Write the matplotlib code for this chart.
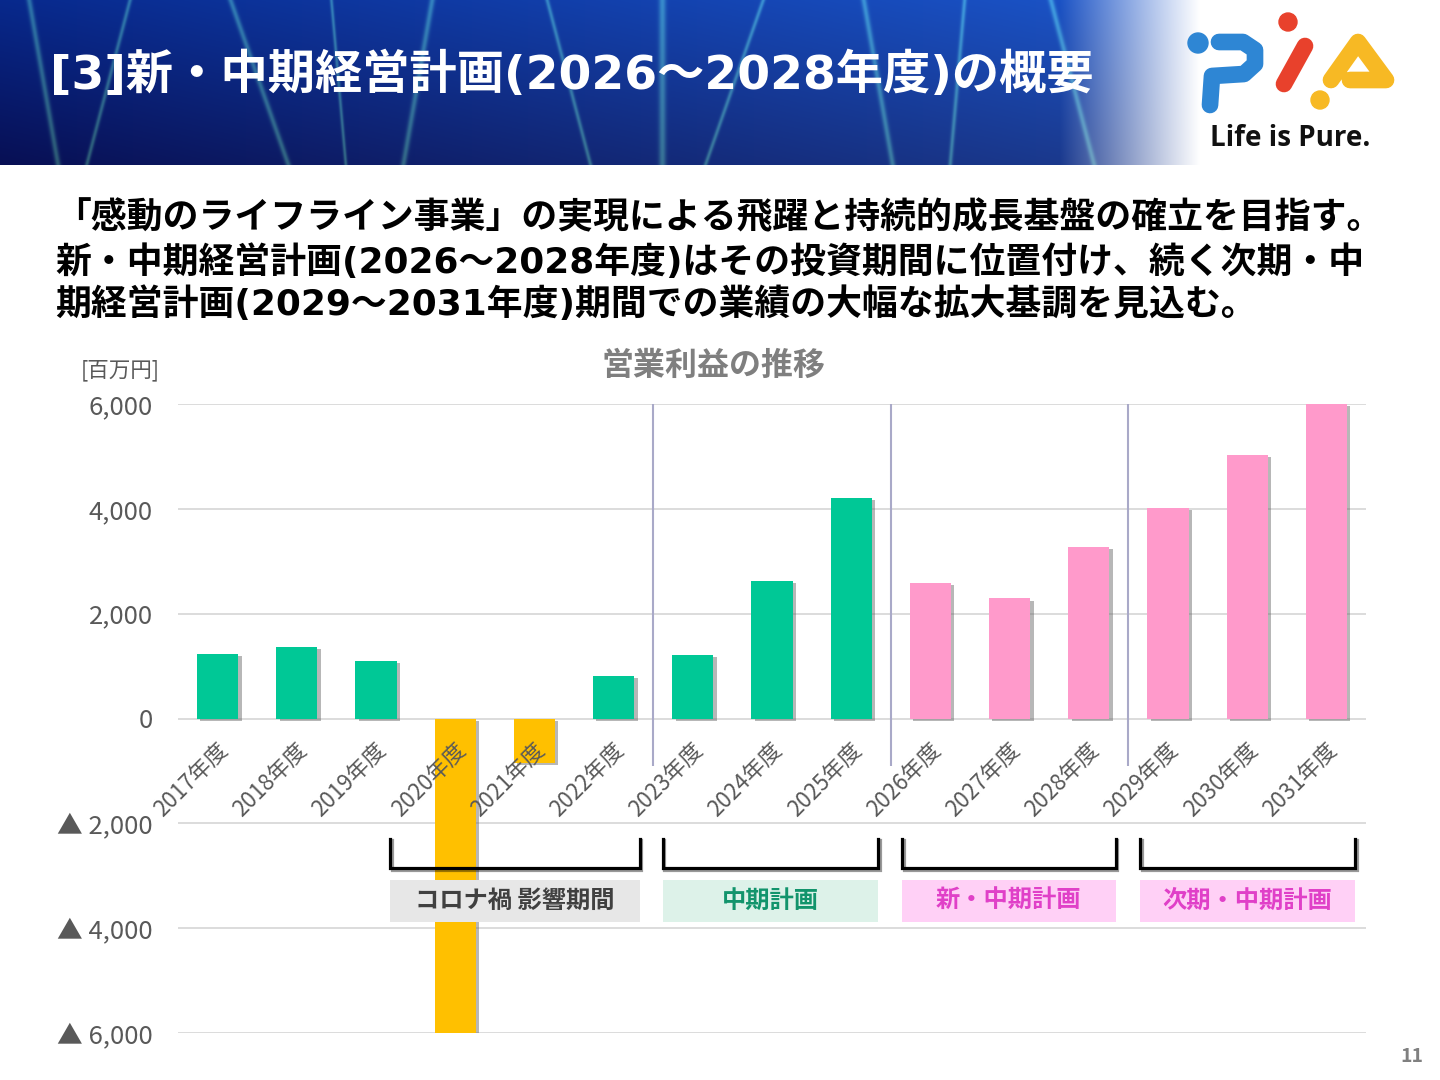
import numpy as np
import matplotlib
matplotlib.use('Agg')
import matplotlib.pyplot as plt
from matplotlib import patheffects as pe
from matplotlib.patches import Rectangle, Circle, PathPatch
from matplotlib.path import Path
from matplotlib.transforms import ScaledTranslation

plt.rcParams['font.family'] = ['Noto Sans CJK JP', 'DejaVu Sans']
MIX = ['DejaVu Sans', 'Noto Sans CJK JP']

# データ
years = ['2017年度', '2018年度', '2019年度', '2020年度', '2021年度', '2022年度',
         '2023年度', '2024年度', '2025年度', '2026年度', '2027年度', '2028年度',
         '2029年度', '2030年度', '2031年度']
profit = [1230, 1370, 1100, -6000, -850, 820, 1210, 2630, 4200,
          2580, 2290, 3270, 4020, 5020, 6000]
phase = ['past', 'past', 'past', 'covid', 'covid', 'past', 'past', 'past', 'past',
         'plan', 'plan', 'plan', 'plan', 'plan', 'plan']
yticks = [-6000, -4000, -2000, 0, 2000, 4000, 6000]
ytick_labels = ['▲ 6,000', '▲ 4,000', '▲ 2,000', '0', '2,000', '4,000', '6,000']
period_labels = ['コロナ禍 影響期間', '中期計画', '新・中期計画', '次期・中期計画']
period_spans = [(2.18, 5.33), (5.62, 8.34), (8.64, 11.34), (11.65, 14.36)]
separators = [5.5, 8.5, 11.5]

colors = {'past': '#00C896', 'covid': '#FFC000', 'plan': '#FF9ACB'}
box_face = ['#E7E7E7', '#DDF2E9', '#FFD0F6', '#FFD0F6']
box_text = ['#404040', '#12946C', '#E040C8', '#E040C8']

W, H = 1440, 1080
fig = plt.figure(figsize=(W / 100, H / 100), dpi=100)
fig.patch.set_facecolor('white')

def fx(px):
    return px / W

def fy(py):
    return 1 - py / H

# ヘッダー背景
hax = fig.add_axes([0, fy(165), 1, 165 / H])
xx = np.linspace(0, 1, W)
yy = np.linspace(0, 1, 165)
X, Y = np.meshgrid(xx, yy)
r = 0.03 + 0.10 * X
g = 0.16 + 0.22 * X - 0.10 * Y
b = 0.55 + 0.30 * X - 0.22 * Y
streaks = [(0.02, 0.02, 0.002), (0.09, -0.03, 0.0015), (0.16, 0.04, 0.002),
           (0.23, 0.01, 0.0012), (0.3, -0.02, 0.002), (0.38, 0.03, 0.0015),
           (0.46, 0.0, 0.0025), (0.53, -0.04, 0.0015), (0.6, 0.02, 0.002),
           (0.67, -0.01, 0.0015), (0.73, 0.03, 0.002)]
for cx, lean, wd in streaks:
    s = np.exp(-((X - cx - lean * Y) / wd) ** 2) * 0.28
    r += s * 0.5
    g += s
    b += s * 0.4
img = np.clip(np.dstack([r, g, b]), 0, 1)
fade = np.clip((X * W - 1060) / 140, 0, 1)[..., None]
img = img * (1 - fade) + fade
hax.imshow(img, aspect='auto', extent=[0, 1, 0, 1])
hax.axis('off')

fig.text(fx(50), fy(76), '[3]新・中期経営計画(2026～2028年度)の概要', color='white',
         fontsize=34, fontweight='bold', va='center', ha='left', family=MIX)

# ロゴ
lax = fig.add_axes([fx(1170), fy(165), 250 / W, 165 / H])
lax.set_xlim(1170, 1420)
lax.set_ylim(165, 0)
lax.axis('off')
blue, red, yel = '#2E86D4', '#E8412C', '#F7B924'
lax.add_patch(Circle((1198, 43), 10, color=blue))
pverts = [(1219, 42), (1243, 42), (1255, 50), (1255, 64), (1244, 74), (1212, 76), (1210, 105)]
lax.add_patch(PathPatch(Path(pverts), fill=False, edgecolor=blue, lw=12,
                        capstyle='round', joinstyle='round'))
lax.add_patch(Circle((1288, 22), 9, color=red))
lax.plot([1305, 1284], [46, 84], color=red, lw=12, solid_capstyle='round')
averts = [(1331, 80), (1358, 42), (1386, 80), (1350, 80)]
lax.add_patch(PathPatch(Path(averts), fill=False, edgecolor=yel, lw=12,
                        capstyle='round', joinstyle='round'))
lax.add_patch(Circle((1320, 100), 9, color=yel))
lax.text(1290, 138, 'Life is Pure.', ha='center', va='center', fontsize=20,
         fontweight='bold', color='#111111', family=['Open Sans', 'DejaVu Sans'])

# 本文
body = ['「感動のライフライン事業」の実現による飛躍と持続的成長基盤の確立を目指す。',
        '新・中期経営計画(2026～2028年度)はその投資期間に位置付け、続く次期・中',
        '期経営計画(2029～2031年度)期間での業績の大幅な拡大基調を見込む。']
for line, py in zip(body, [218, 262, 304]):
    fig.text(fx(55), fy(py), line, fontsize=25.8, fontweight='bold', color='black',
             va='center', ha='left', family=MIX)

fig.text(fx(714), fy(366), '営業利益の推移', fontsize=23, fontweight='bold',
         color='#7F7F7F', ha='center', va='center')
fig.text(fx(120), fy(370), '[百万円]', fontsize=15.5, color='#595959',
         ha='center', va='center')
fig.text(fx(1412), fy(1056), '11', fontsize=14, fontweight='bold', color='#808080',
         ha='center', va='center')

# グラフ
ax = fig.add_axes([fx(178), fy(1033), (1366 - 178) / W, (1033 - 404) / H])
ax.set_xlim(-0.5, len(years) - 0.5)
ax.set_ylim(-6000, 6000)
x = np.arange(len(years))
bars = ax.bar(x, profit, width=0.52, color=[colors[p] for p in phase], zorder=3)
for p in bars.patches:
    p.set_path_effects([pe.SimplePatchShadow(offset=(2.5, -1.5), shadow_rgbFace='#606060', alpha=0.45),
                        pe.Normal()])

ax.set_yticks(yticks)
ax.set_yticklabels(ytick_labels, fontsize=18.5, color='#595959')
ax.tick_params(axis='y', length=0, pad=18)
ax.set_xticks([])
ax.yaxis.grid(True, color='#D9D9D9', lw=1.3)
ax.set_axisbelow(True)
for s in ax.spines.values():
    s.set_visible(False)

ax.vlines(separators, -900, 6000, color='#A9A9C8', lw=1.5, zorder=2)

off = ax.transData + ScaledTranslation(0.07, -0.28, fig.dpi_scale_trans)
for i, lab in enumerate(years):
    ax.text(i, 0, lab, rotation=45, rotation_mode='anchor', ha='right', va='center',
            fontsize=16, color='#595959', transform=off, zorder=5)

for (x0, x1), lab, fc, tc in zip(period_spans, period_labels, box_face, box_text):
    ax.plot([x0, x0, x1, x1], [-2290, -2860, -2860, -2290], color='black', lw=2.3,
            solid_joinstyle='miter', zorder=6,
            path_effects=[pe.SimpleLineShadow(offset=(1.2, -1.2), alpha=0.4), pe.Normal()])
    ax.add_patch(Rectangle((x0, -3886), x1 - x0, 800, facecolor=fc, edgecolor='none', zorder=6))
    ax.text((x0 + x1) / 2, -3486, lab, ha='center', va='center', fontsize=17.5,
            fontweight='bold', color=tc, zorder=7)

fig.savefig('out.png', dpi=100)
